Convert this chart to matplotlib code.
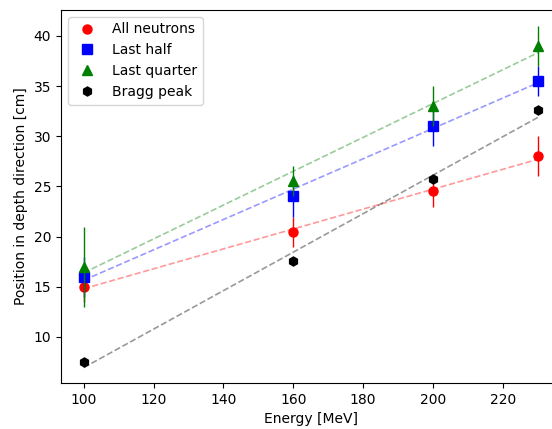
import numpy as np
import matplotlib
matplotlib.use('Agg')
import matplotlib.pyplot as plt

energy = [100, 160, 200, 230]

all_neutrons = [15.0, 20.5, 24.5, 28.0]
all_neutrons_err = [1.5, 1.5, 1.5, 2.0]

last_half = [16.0, 24.0, 31.0, 35.5]
last_half_err = [2.0, 2.0, 2.0, 1.5]

last_quarter = [17.0, 25.5, 33.0, 39.0]
last_quarter_err = [4.0, 1.5, 2.0, 2.0]

bragg_peak = [7.5, 17.6, 25.7, 32.6]

fig = plt.figure(figsize=(5.52, 4.29), dpi=100)
ax = fig.add_axes([0.1105, 0.107, 0.905, 0.87])

series = [
    (all_neutrons, all_neutrons_err, 'o', 'r', 'All neutrons'),
    (last_half, last_half_err, 's', 'b', 'Last half'),
    (last_quarter, last_quarter_err, '^', 'g', 'Last quarter'),
    (bragg_peak, None, 'h', 'k', 'Bragg peak'),
]

x = np.array(energy)
for y, err, m, c, lab in series:
    if err is not None:
        ax.errorbar(x, y, yerr=err, fmt='none', ecolor=c, elinewidth=1)
    ax.plot(x, y, m, color=c, ms=6.5, label=lab)
    # linear fit through the points
    k, b = np.polyfit(x, y, 1)
    ax.plot(x, k * x + b, '--', color=c, alpha=0.4, lw=1.2)

ax.set_xlim(93.5, 236.5)
ax.set_ylim(5.4, 42.6)
ax.set_xlabel('Energy [MeV]')
ax.set_ylabel('Position in depth direction [cm]')
ax.legend(loc='upper left')

fig.savefig('out.png', dpi=100)
